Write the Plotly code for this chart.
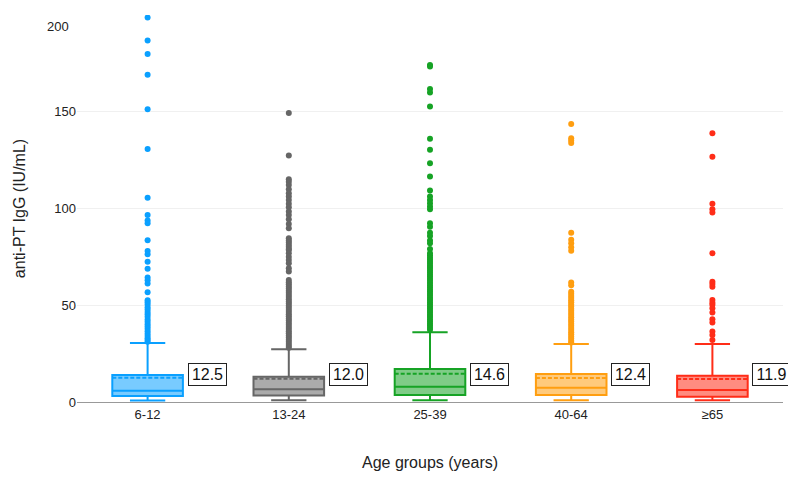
import plotly.graph_objects as go

categories = ["6-12", "13-24", "25-39", "40-64", "≥65"]
colors = ["#0AA0FF", "#666666", "#16A325", "#FF9E10", "#FF2D18"]
fills = ["rgba(10,160,255,0.55)", "rgba(102,102,102,0.55)", "rgba(22,163,37,0.55)",
         "rgba(255,158,16,0.55)", "rgba(255,45,24,0.55)"]

q1 = [3.1, 3.3, 3.6, 3.6, 2.7]
median = [5.8, 6.6, 7.9, 7.4, 6.2]
q3 = [14.0, 13.1, 17.1, 14.5, 13.6]
lowerfence = [0.8, 0.9, 0.9, 0.9, 0.9]
upperfence = [30.5, 27.2, 36.0, 30.0, 30.0]
means = [12.5, 12.0, 14.6, 12.4, 11.9]
mean_labels = ["12.5", "12.0", "14.6", "12.4", "11.9"]

outliers_6_12 = [198.7, 186.8, 179.8, 169.1, 151.3, 130.8, 105.6, 96.7, 93.8, 92.4, 83.6,
                 78.1, 76.4, 72.5, 68.9, 64.3, 62.9, 61.2, 56.7, 52.6, 51.5, 50.4, 49.0,
                 47.8, 46.5, 45.3, 44.0, 42.6, 41.5, 40.2, 39.0, 37.8, 36.5, 35.3, 34.1,
                 33.0, 32.0, 31.2]
outliers_13_24 = [149.3, 127.4, 115.1, 113.8, 112.2, 110.0, 107.9, 106.2, 104.4, 102.4,
                  100.7, 98.4, 96.7, 94.5, 92.0, 89.8, 84.6, 83.5, 82.4, 81.3, 80.2, 79.1,
                  78.6, 76.9, 75.1, 73.4, 71.7, 69.1, 67.4, 63.0, 61.9, 60.8, 59.7, 58.6,
                  57.5, 56.4, 55.3, 54.2, 53.1, 52.0, 50.9, 49.8, 48.7, 47.6, 46.5, 45.4,
                  44.3, 43.2, 42.1, 41.0, 39.9, 38.8, 37.7, 36.6, 35.5, 34.4, 33.3, 32.2,
                  31.1, 30.0, 28.9, 28.0]
outliers_25_39 = [174.2, 173.4, 161.7, 160.0, 152.7, 136.0, 130.3, 123.4, 116.5, 109.3,
                  106.2, 104.4, 102.7, 101.0, 99.6, 92.4, 90.6, 87.5, 85.8, 83.4, 82.1,
                  79.1, 76.9, 75.8, 74.7, 73.6, 72.5, 71.4, 70.3, 69.2, 68.1, 67.0, 65.9,
                  64.8, 63.7, 62.6, 61.5, 60.4, 59.3, 58.2, 57.1, 56.0, 54.9, 53.8, 52.7,
                  51.6, 50.5, 49.4, 48.3, 47.2, 46.1, 45.0, 43.9, 42.8, 41.7, 40.6, 39.5,
                  38.4, 37.3]
outliers_40_64 = [143.7, 136.3, 135.1, 133.8, 87.5, 83.8, 82.1, 80.0, 78.2, 61.7, 60.3,
                  57.0, 55.9, 54.8, 53.7, 52.6, 51.5, 50.4, 49.3, 48.2, 47.1, 46.0, 44.9,
                  43.8, 42.7, 41.6, 40.5, 39.4, 38.3, 37.2, 36.1, 35.0, 33.9, 32.8, 31.7,
                  30.8]
outliers_65 = [138.9, 126.8, 102.4, 99.6, 97.9, 76.9, 62.2, 61.0, 59.6, 52.7, 51.3, 50.2,
               48.4, 46.2, 42.8, 41.1, 36.4, 34.6, 32.1]
outliers = [outliers_6_12, outliers_13_24, outliers_25_39, outliers_40_64, outliers_65]

y_ticks = [0, 50, 100, 150]
y_top = 200

FONT = "Liberation Sans, Arial, sans-serif"

fig = go.Figure()
for i, cat in enumerate(categories):
    fig.add_trace(go.Scatter(
        x=[cat] * len(outliers[i]), y=outliers[i], mode="markers",
        marker=dict(color=colors[i], size=6, line=dict(width=0)),
        showlegend=False, hoverinfo="y"))
    fig.add_trace(go.Box(
        x=[cat], q1=[q1[i]], median=[median[i]], q3=[q3[i]],
        lowerfence=[lowerfence[i]], upperfence=[upperfence[i]], mean=[means[i]],
        boxmean=True, boxpoints=False, width=0.5, whiskerwidth=0.5,
        fillcolor=fills[i], line=dict(color=colors[i], width=2),
        showlegend=False))
    fig.add_annotation(
        x=cat, y=14.2, xref="x", yref="y", text=mean_labels[i], showarrow=False,
        xanchor="left", yanchor="middle", xshift=40, width=35, height=19, align="center",
        font=dict(size=16, color="#111111", family=FONT),
        bgcolor="white", bordercolor="#222222", borderwidth=1, borderpad=1)

# top tick label (drawn just inside the plot top, as in the reference)
fig.add_annotation(
    x=0, xref="paper", xanchor="right", xshift=-6,
    y=y_top, yref="y", yanchor="top", yshift=-2,
    text=str(y_top), showarrow=False,
    font=dict(size=13, color="#222222", family=FONT))

fig.update_layout(
    width=796, height=481,
    margin=dict(l=69, r=21, t=7, b=87),
    paper_bgcolor="white", plot_bgcolor="white",
    font=dict(family=FONT, color="#222222", size=13),
    showlegend=False,
)
fig.update_xaxes(
    type="category", categoryorder="array", categoryarray=categories,
    range=[-0.5, 4.5],
    showline=True, linecolor="#999999", linewidth=1, showgrid=False,
    ticks="", tickfont=dict(size=13, color="#222222"),
    title=dict(text="Age groups (years)", font=dict(size=16, color="#222222"), standoff=36),
)
fig.update_yaxes(
    range=[0, y_top], tickvals=y_ticks, ticktext=[str(v) for v in y_ticks],
    showgrid=True, gridcolor="#f0f0f0", gridwidth=1, zeroline=False, showline=False,
    ticks="", tickfont=dict(size=13, color="#222222"),
    title=dict(text="anti-PT IgG (IU/mL)", font=dict(size=16, color="#222222"), standoff=24),
)

fig.write_html("out.html")
